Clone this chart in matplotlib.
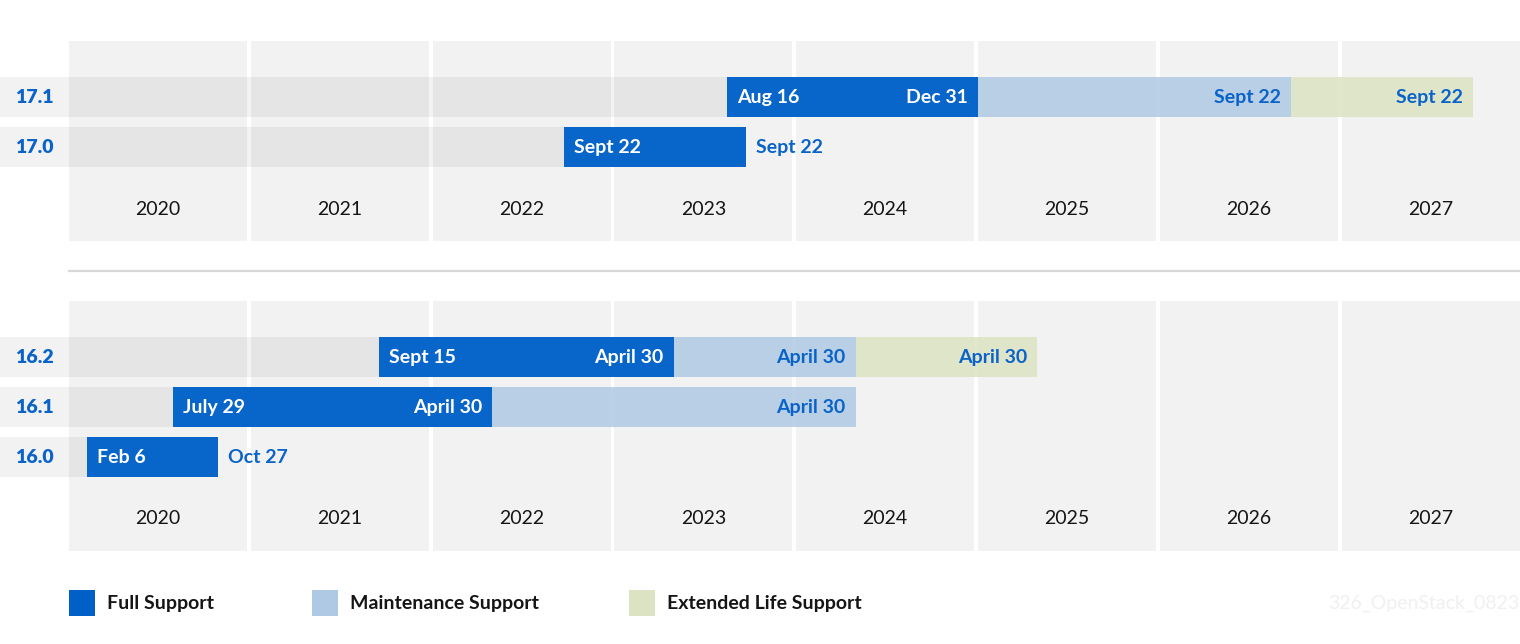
import datetime as dt
import matplotlib
matplotlib.use("Agg")
import matplotlib.pyplot as plt
from matplotlib.patches import Rectangle

# ---- data ----
years = [2020, 2021, 2022, 2023, 2024, 2025, 2026, 2027]
releases = ['17.1', '17.0', '16.2', '16.1', '16.0']
full_start = ['2023-08-16', '2022-09-22', '2021-09-15', '2020-07-29', '2020-02-06']
full_end = ['2024-12-31', '2023-09-22', '2023-04-30', '2022-04-30', '2020-10-27']
maint_end = ['2026-09-22', None, '2024-04-30', '2024-04-30', None]
els_end = ['2027-09-22', None, '2025-04-30', None, None]
start_labels = ['Aug 16', 'Sept 22', 'Sept 15', 'July 29', 'Feb 6']
full_end_labels = ['Dec 31', 'Sept 22', 'April 30', 'April 30', 'Oct 27']
maint_labels = ['Sept 22', None, 'April 30', 'April 30', None]
els_labels = ['Sept 22', None, 'April 30', None, None]
legend_labels = ['Full Support', 'Maintenance Support', 'Extended Life Support']

# ---- style ----
FULL = '#0060c8'
MAINT = '#afc9e4'
ELS = '#dce3c2'
COL_BG = '#f2f2f2'
BLUE_TXT = '#0a63c9'
DARK = '#151515'
plt.rcParams['font.family'] = ['Lato', 'DejaVu Sans']

# layout (pixel units on a 1520x644 canvas)
W, H = 1520, 644
PX_YEAR = 181.8
X0 = years[0] - 69 / PX_YEAR
row_y = [97, 147, 357, 407, 457]
bar_h = 40
panels = [(41, 241, 209), (301, 551, 519)]  # column top, bottom, year-label y


def frac_year(s):
    d = dt.date.fromisoformat(s)
    n = (dt.date(d.year + 1, 1, 1) - dt.date(d.year, 1, 1)).days
    return d.year + (d.timetuple().tm_yday - 1) / n


def px(p):
    return X0 + p / PX_YEAR


fig = plt.figure(figsize=(W / 100, H / 100), dpi=100)
ax = fig.add_axes([0, 0, 1, 1])
ax.set_xlim(X0, X0 + W / PX_YEAR)
ax.set_ylim(H, 0)
ax.axis('off')

col_w = 178 / PX_YEAR
for top, bot, ly in panels:
    for yr in years:
        ax.add_patch(Rectangle((yr, top), col_w, bot - top, color=COL_BG, lw=0, zorder=1))
        ax.text(yr + col_w / 2, ly, str(yr), ha='center', va='center',
                fontsize=14, color=DARK, zorder=5)

# separator
ax.plot([years[0], X0 + W / PX_YEAR], [271, 271], color='#d8d8d8', lw=1.6, zorder=2)

off = 7.2  # 10 px in points
for i, rel in enumerate(releases):
    y = row_y[i]
    s = frac_year(full_start[i])
    fe = frac_year(full_end[i])
    # grey band up to release
    ax.add_patch(Rectangle((X0, y - bar_h / 2), s - X0, bar_h, color='black',
                           alpha=0.05, lw=0, zorder=2))
    ax.text(px(15), y, rel, ha='left', va='center', fontsize=14,
            fontweight='heavy', color=BLUE_TXT, zorder=5)
    ax.add_patch(Rectangle((s, y - bar_h / 2), fe - s, bar_h, color=FULL,
                           alpha=0.97, lw=0, zorder=3))
    ax.annotate(start_labels[i], (s, y), xytext=(off, 0), textcoords='offset points',
                ha='left', va='center', fontsize=14, fontweight='bold',
                color='white', zorder=5)
    if maint_end[i] is None:
        ax.annotate(full_end_labels[i], (fe, y), xytext=(off, 0),
                    textcoords='offset points', ha='left', va='center',
                    fontsize=14, fontweight='bold', color=BLUE_TXT, zorder=5)
        continue
    ax.annotate(full_end_labels[i], (fe, y), xytext=(-off, 0),
                textcoords='offset points', ha='right', va='center',
                fontsize=14, fontweight='bold', color='white', zorder=5)
    me = frac_year(maint_end[i])
    ax.add_patch(Rectangle((fe, y - bar_h / 2), me - fe, bar_h, color=MAINT,
                           alpha=0.85, lw=0, zorder=3))
    ax.annotate(maint_labels[i], (me, y), xytext=(-off, 0),
                textcoords='offset points', ha='right', va='center',
                fontsize=14, fontweight='bold', color=BLUE_TXT, zorder=5)
    if els_end[i] is not None:
        ee = frac_year(els_end[i])
        ax.add_patch(Rectangle((me, y - bar_h / 2), ee - me, bar_h, color=ELS,
                               alpha=0.85, lw=0, zorder=3))
        ax.annotate(els_labels[i], (ee, y), xytext=(-off, 0),
                    textcoords='offset points', ha='right', va='center',
                    fontsize=14, fontweight='bold', color=BLUE_TXT, zorder=5)

# legend
for lx, lab, c in zip([69, 312, 629], legend_labels, [FULL, MAINT, ELS]):
    ax.add_patch(Rectangle((px(lx), 590), 26 / PX_YEAR, 26, color=c, lw=0, zorder=3))
    ax.text(px(lx + 38), 603, lab, ha='left', va='center', fontsize=14,
            fontweight='bold', color=DARK, zorder=5)

ax.text(px(1519), 603, '326_OpenStack_0823', ha='right', va='center',
        fontsize=14, color='#f0f0f0', zorder=5)

fig.savefig('out.png', dpi=100)
